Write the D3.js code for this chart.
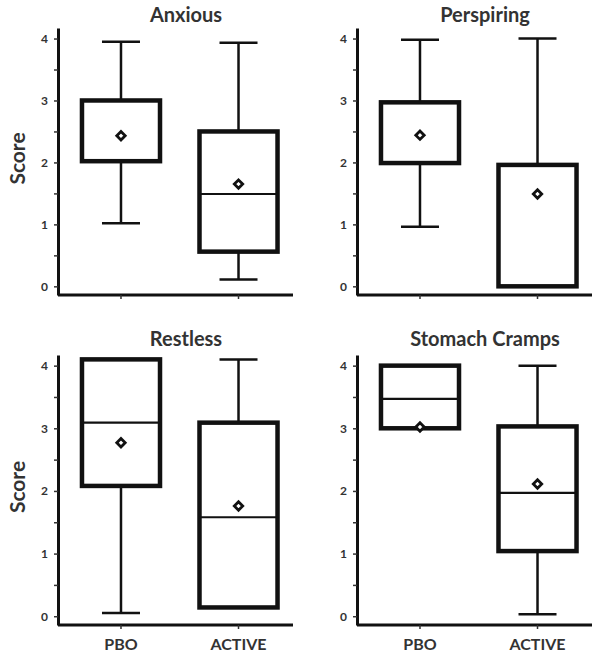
<!DOCTYPE html>
<html>
<head>
<meta charset="utf-8">
<script src="https://cdn.jsdelivr.net/npm/d3@7"></script>
<style>
  body { margin: 0; background: #fff; }
  svg { display: block; }
  text { font-family: Lato, "Open Sans", sans-serif; font-weight: bold; fill: #333; }
</style>
</head>
<body>
<div id="container"></div>
<script>
/* DATA */
const symptoms = ["Anxious", "Perspiring", "Restless", "Stomach Cramps"]
const groups = ["PBO", "ACTIVE"]
// one [PBO, ACTIVE] pair per symptom
const whiskerMin = [[1.02, 0.11], [0.96, 0.0], [0.05, 0.14], [3.0, 0.03]]
const q1 = [[2.02, 0.56], [1.99, 0.0], [2.08, 0.14], [3.0, 1.04]]
const median = [[3.0, 1.49], [2.97, 1.96], [3.09, 1.58], [3.47, 1.97]]
const q3 = [[3.0, 2.5], [2.97, 1.96], [4.1, 3.09], [4.0, 3.03]]
const whiskerMax = [[3.95, 3.93], [3.98, 4.0], [4.1, 4.1], [4.0, 4.0]]
const mean = [[2.43, 1.65], [2.44, 1.49], [2.77, 1.76], [3.02, 2.11]]
const yTicks = [0, 0.5, 1, 1.5, 2, 2.5, 3, 3.5, 4]

/* LAYOUT */
const width = 603, height = 660
const axisX = [58, 357]          // left edge of each column
const axisLen = 235
const rowRange = [[295, 28], [625, 355]]
const titleY = [22, 346]

const svg = d3.select("#container")
  .append("svg")
  .attr("width", width)
  .attr("height", height)

symptoms.forEach((name, i) => {
  const col = i % 2, row = Math.floor(i / 2)
  const x0 = axisX[col]

  const yScale = d3.scaleLinear()
    .domain([-0.14, 4.17])
    .range(rowRange[row])

  const xScale = d3.scaleBand()
    .domain(groups)
    .range([x0, x0 + 243.5])
    .paddingInner(0.336)
    .paddingOuter(0.204)

  const g = svg.append("g")

  // boxes
  groups.forEach((grp, j) => {
    const cx = xScale(grp) + xScale.bandwidth() / 2
    const bx = xScale(grp)
    const bw = xScale.bandwidth()
    const capW = 19

    // whiskers
    g.append("line")
      .attr("x1", cx).attr("x2", cx)
      .attr("y1", yScale(whiskerMax[i][j])).attr("y2", yScale(q3[i][j]))
      .attr("stroke", "#111").attr("stroke-width", 2.5)
    g.append("line")
      .attr("x1", cx).attr("x2", cx)
      .attr("y1", yScale(q1[i][j])).attr("y2", yScale(whiskerMin[i][j]))
      .attr("stroke", "#111").attr("stroke-width", 2.5)
    if (whiskerMax[i][j] > q3[i][j]) {
      g.append("line")
        .attr("x1", cx - capW).attr("x2", cx + capW)
        .attr("y1", yScale(whiskerMax[i][j])).attr("y2", yScale(whiskerMax[i][j]))
        .attr("stroke", "#111").attr("stroke-width", 2.5)
    }
    if (whiskerMin[i][j] < q1[i][j]) {
      g.append("line")
        .attr("x1", cx - capW).attr("x2", cx + capW)
        .attr("y1", yScale(whiskerMin[i][j])).attr("y2", yScale(whiskerMin[i][j]))
        .attr("stroke", "#111").attr("stroke-width", 2.5)
    }

    // box
    g.append("rect")
      .attr("x", bx)
      .attr("width", bw)
      .attr("y", yScale(q3[i][j]))
      .attr("height", yScale(q1[i][j]) - yScale(q3[i][j]))
      .attr("fill", "#fff")
      .attr("stroke", "#111")
      .attr("stroke-width", 4.5)

    // median
    g.append("line")
      .attr("x1", bx).attr("x2", bx + bw)
      .attr("y1", yScale(median[i][j])).attr("y2", yScale(median[i][j]))
      .attr("stroke", "#111").attr("stroke-width", 2.2)

    // mean marker
    g.append("path")
      .attr("d", d3.symbol().type(d3.symbolDiamond2).size(45)())
      .attr("transform", `translate(${cx},${yScale(mean[i][j])})`)
      .attr("fill", "#fff")
      .attr("stroke", "#111")
      .attr("stroke-width", 2.8)
  })

  // axes
  const yAxis = d3.axisLeft(yScale)
    .tickValues(yTicks)
    .tickSize(4)
    .tickSizeOuter(0)
    .tickPadding(6)
    .tickFormat(d => Number.isInteger(d) ? d : "")
  const yg = g.append("g")
    .attr("transform", `translate(${x0},0)`)
    .call(yAxis)
  yg.select(".domain").attr("stroke", "#111").attr("stroke-width", 3)
  yg.selectAll(".tick line").attr("stroke", "#333").attr("stroke-width", 1.5)
  yg.selectAll(".tick text").attr("font-size", 12).attr("fill", "#333")
    .style("font-family", "Lato, sans-serif").style("font-weight", "bold")

  const xAxis = d3.axisBottom(xScale)
    .tickSize(4)
    .tickSizeOuter(0)
    .tickPadding(10)
    .tickFormat(d => row === 1 ? d : "")
  const xg = g.append("g")
    .attr("transform", `translate(0,${rowRange[row][0]})`)
    .call(xAxis)
  xg.select(".domain")
    .attr("d", `M${x0},0H${x0 + axisLen}`)
    .attr("stroke", "#111").attr("stroke-width", 3)
  xg.selectAll(".tick line").attr("stroke", "#333").attr("stroke-width", 1.5)
  xg.selectAll(".tick text").attr("font-size", 16).attr("fill", "#333")
    .style("font-family", "Lato, sans-serif").style("font-weight", "bold")

  // title
  g.append("text")
    .attr("x", x0 + 128)
    .attr("y", titleY[row])
    .attr("text-anchor", "middle")
    .attr("font-size", 20)
    .text(name)

  // y label on left column only
  if (col === 0) {
    g.append("text")
      .attr("transform", `translate(25,${(rowRange[row][0] + rowRange[row][1]) / 2 - 3}) rotate(-90)`)
      .attr("text-anchor", "middle")
      .attr("font-size", 21)
      .text("Score")
  }
})
</script>
</body>
</html>
